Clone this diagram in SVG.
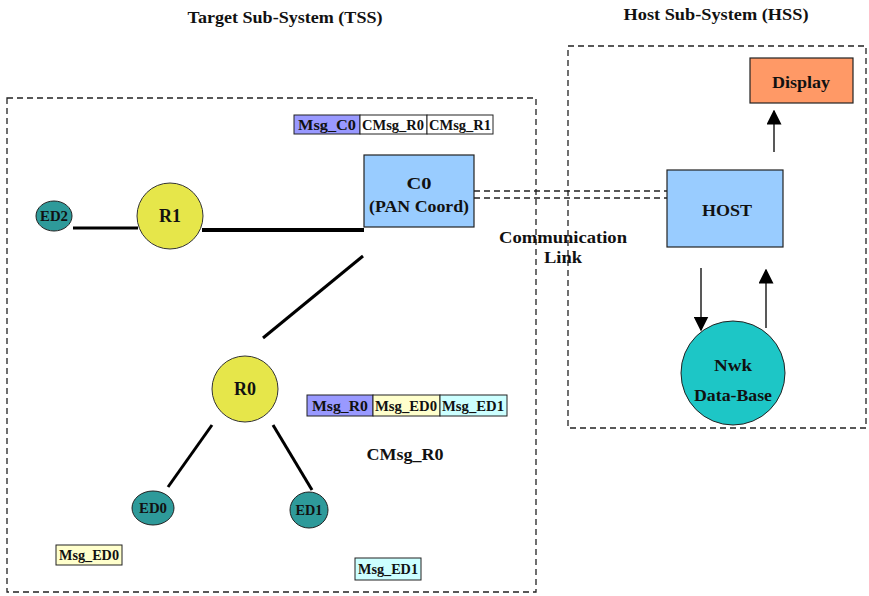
<svg xmlns="http://www.w3.org/2000/svg" width="869" height="596" viewBox="0 0 869 596">
<defs>
<style>
text{font-family:"Liberation Serif","Times New Roman",serif;font-weight:bold;fill:#111;text-anchor:middle}
.title{font-size:17px}
.lbl{font-size:17px}
.msg{font-size:14px}
.ed{font-size:14px}
.frame{fill:none;stroke:#222;stroke-width:1.3;stroke-dasharray:6 4}
.box{stroke:#222;stroke-width:1.2}
.cell{stroke:#222;stroke-width:1}
.link{stroke:#000;stroke-width:3;fill:none}
.arr{stroke:#222;stroke-width:1.5;fill:none}
.yel{fill:#E6E64A;stroke:#333;stroke-width:1}
.edn{fill:#2E9A9A;stroke:#222;stroke-width:1}
</style>
<marker id="ah" viewBox="0 0 10 10" refX="9" refY="5" markerWidth="15" markerHeight="15" markerUnits="userSpaceOnUse" orient="auto">
<path d="M0,0 L10,5 L0,10 Z" fill="#000"/>
</marker>
</defs>
<rect width="869" height="596" fill="#fff"/>

<g id="frames">
<rect class="frame" x="7" y="98" width="529" height="494"/>
<rect class="frame" x="568" y="46" width="298" height="382"/>
<text class="title" x="285" y="23" textLength="195" lengthAdjust="spacingAndGlyphs">Target Sub-System (TSS)</text>
<text class="title" x="716" y="20" textLength="185" lengthAdjust="spacingAndGlyphs">Host Sub-System (HSS)</text>
</g>

<g id="connectors">
<line class="link" x1="73" y1="228" x2="138" y2="228"/>
<line class="link" x1="202" y1="230" x2="364" y2="230" style="stroke-width:4"/>
<line class="link" x1="363" y1="256" x2="263" y2="338"/>
<line class="link" x1="212" y1="425" x2="168" y2="487"/>
<line class="link" x1="273" y1="425" x2="312" y2="490"/>
<line x1="474" y1="191" x2="667" y2="191" stroke="#222" stroke-width="1.3" stroke-dasharray="6 4"/>
<line x1="474" y1="198" x2="667" y2="198" stroke="#222" stroke-width="1.3" stroke-dasharray="6 4"/>
<line class="arr" x1="774" y1="152" x2="774" y2="111" marker-end="url(#ah)"/>
<line class="arr" x1="701" y1="268" x2="701" y2="330" marker-end="url(#ah)"/>
<line class="arr" x1="766" y1="328" x2="766" y2="270" marker-end="url(#ah)"/>
<text class="lbl" x="563" y="243" textLength="128" lengthAdjust="spacingAndGlyphs">Communication</text>
<text class="lbl" x="563" y="263" textLength="38" lengthAdjust="spacingAndGlyphs">Link</text>
</g>

<g id="msgC0">
<rect class="cell" x="294" y="115" width="66" height="19" fill="#9999FF"/>
<rect class="cell" x="360" y="115" width="67" height="19" fill="#fff"/>
<rect class="cell" x="427" y="115" width="66" height="19" fill="#fff"/>
<text class="msg" x="327" y="130" textLength="58" lengthAdjust="spacingAndGlyphs">Msg_C0</text>
<text class="msg" x="393" y="130" textLength="62" lengthAdjust="spacingAndGlyphs">CMsg_R0</text>
<text class="msg" x="460" y="130" textLength="62" lengthAdjust="spacingAndGlyphs">CMsg_R1</text>
</g>

<g id="C0">
<rect class="box" x="364" y="155" width="110" height="72" fill="#99CCFF"/>
<text class="lbl" x="419" y="189" textLength="25" lengthAdjust="spacingAndGlyphs">C0</text>
<text class="lbl" x="419" y="212" textLength="100" lengthAdjust="spacingAndGlyphs">(PAN Coord)</text>
</g>

<g id="HOST">
<rect class="box" x="667" y="170" width="116" height="77" fill="#99CCFF"/>
<text class="lbl" x="727" y="216" textLength="50" lengthAdjust="spacingAndGlyphs">HOST</text>
</g>

<g id="Display">
<rect class="box" x="750" y="58" width="103" height="45" fill="#FF9966"/>
<text class="lbl" x="801" y="88" textLength="58" lengthAdjust="spacingAndGlyphs">Display</text>
</g>

<g id="NwkDB">
<circle cx="733" cy="373" r="52" fill="#1DC6C6" stroke="#222" stroke-width="1"/>
<text class="lbl" x="733" y="371" textLength="38" lengthAdjust="spacingAndGlyphs">Nwk</text>
<text class="lbl" x="733" y="401" textLength="78" lengthAdjust="spacingAndGlyphs">Data-Base</text>
</g>

<g id="ED2">
<ellipse class="edn" cx="54" cy="216" rx="18" ry="15"/>
<text class="ed" x="54" y="221" textLength="28" lengthAdjust="spacingAndGlyphs">ED2</text>
</g>

<g id="R1">
<circle class="yel" cx="170" cy="216" r="33"/>
<text class="lbl" x="170" y="222" style="font-size:18px">R1</text>
</g>

<g id="R0">
<circle class="yel" cx="245" cy="389" r="33"/>
<text class="lbl" x="245" y="395" style="font-size:18px">R0</text>
</g>

<g id="ED0">
<ellipse class="edn" cx="153" cy="508" rx="21" ry="17"/>
<text class="ed" x="153" y="513" textLength="28" lengthAdjust="spacingAndGlyphs">ED0</text>
</g>

<g id="ED1">
<ellipse class="edn" cx="309" cy="510" rx="19" ry="18"/>
<text class="ed" x="309" y="515" textLength="27" lengthAdjust="spacingAndGlyphs">ED1</text>
</g>

<g id="msgR0">
<rect class="cell" x="307" y="395" width="66" height="21" fill="#9999FF"/>
<rect class="cell" x="373" y="395" width="67" height="21" fill="#FFFFCC"/>
<rect class="cell" x="440" y="395" width="67" height="21" fill="#CCFFFF"/>
<text class="msg" x="340" y="411" textLength="56" lengthAdjust="spacingAndGlyphs">Msg_R0</text>
<text class="msg" x="406" y="411" textLength="62" lengthAdjust="spacingAndGlyphs">Msg_ED0</text>
<text class="msg" x="473" y="411" textLength="62" lengthAdjust="spacingAndGlyphs">Msg_ED1</text>
</g>

<g id="CMsgR0">
<text class="lbl" x="405" y="460" textLength="77" lengthAdjust="spacingAndGlyphs">CMsg_R0</text>
</g>

<g id="msgED0">
<rect class="cell" x="56" y="545" width="66" height="20" fill="#FFFFCC"/>
<text class="msg" x="89" y="560" textLength="60" lengthAdjust="spacingAndGlyphs">Msg_ED0</text>
</g>

<g id="msgED1">
<rect class="cell" x="355" y="558" width="66" height="22" fill="#CCFFFF"/>
<text class="msg" x="388" y="574" textLength="60" lengthAdjust="spacingAndGlyphs">Msg_ED1</text>
</g>
</svg>
